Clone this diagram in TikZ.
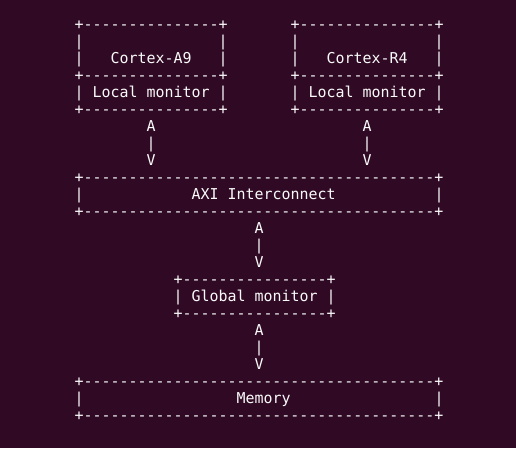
\documentclass[tikz,border=0pt]{standalone}
\usepackage{fontspec}
\newfontfamily\termfont{DejaVu Sans Mono}[Ligatures=TeXOff]
\definecolor{termbg}{HTML}{300A24}
\definecolor{termfg}{HTML}{FAFAFA}
\tikzset{term/.style={anchor=base west, inner sep=0pt, outer sep=0pt, text=termfg,
  font=\termfont\fontsize{14.95}{17}\selectfont}}
\newcommand\seg[4]{\node[term] (#1) at ({74.5+9*#2},{29+17*#3}) {#4};}
\begin{document}
\begin{tikzpicture}[x=1pt,y=-1pt]
\path[fill=termbg,use as bounding box] (0,0) rectangle (516,448);
% Cortex-A9 box
\seg{aTop}{0}{0}{+---------------+}
\seg{aL1}{0}{1}{|}\seg{aR1}{16}{1}{|}
\seg{aL2}{0}{2}{|}\seg{aName}{4}{2}{Cortex-A9}\seg{aR2}{16}{2}{|}
\seg{aMid}{0}{3}{+---------------+}
\seg{aL4}{0}{4}{|}\seg{aMon}{2}{4}{Local monitor}\seg{aR4}{16}{4}{|}
\seg{aBot}{0}{5}{+---------------+}
% Cortex-R4 box
\seg{rTop}{24}{0}{+---------------+}
\seg{rL1}{24}{1}{|}\seg{rR1}{40}{1}{|}
\seg{rL2}{24}{2}{|}\seg{rName}{28}{2}{Cortex-R4}\seg{rR2}{40}{2}{|}
\seg{rMid}{24}{3}{+---------------+}
\seg{rL4}{24}{4}{|}\seg{rMon}{26}{4}{Local monitor}\seg{rR4}{40}{4}{|}
\seg{rBot}{24}{5}{+---------------+}
% arrows to AXI
\seg{aA}{8}{6}{A}\seg{aBar}{8}{7}{|}\seg{aV}{8}{8}{V}
\seg{rA}{32}{6}{A}\seg{rBar}{32}{7}{|}\seg{rV}{32}{8}{V}
% AXI
\seg{xTop}{0}{9}{+---------------------------------------+}
\seg{xL}{0}{10}{|}\seg{xName}{13}{10}{AXI Interconnect}\seg{xR}{40}{10}{|}
\seg{xBot}{0}{11}{+---------------------------------------+}
\seg{xA}{20}{12}{A}\seg{xBar}{20}{13}{|}\seg{xV}{20}{14}{V}
% Global monitor
\seg{gTop}{11}{15}{+----------------+}
\seg{gL}{11}{16}{|}\seg{gName}{13}{16}{Global monitor}\seg{gR}{28}{16}{|}
\seg{gBot}{11}{17}{+----------------+}
\seg{gA}{20}{18}{A}\seg{gBar}{20}{19}{|}\seg{gV}{20}{20}{V}
% Memory
\seg{mTop}{0}{21}{+---------------------------------------+}
\seg{mL}{0}{22}{|}\seg{mName}{18}{22}{Memory}\seg{mR}{40}{22}{|}
\seg{mBot}{0}{23}{+---------------------------------------+}
\end{tikzpicture}
\end{document}
